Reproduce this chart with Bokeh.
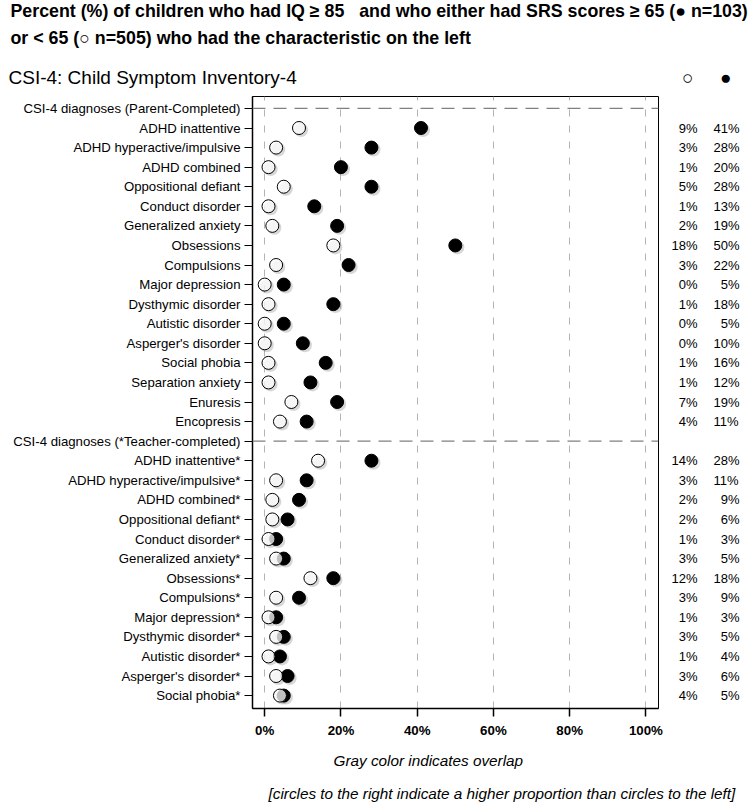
from bokeh.plotting import figure
from bokeh.models import (Range1d, FixedTicker, Span, Title, LinearAxis,
                          ColumnDataSource, PrintfTickFormatter)
from bokeh.transform import dodge
from bokeh.embed import file_html
from bokeh.resources import INLINE

# ---------------- data ----------------
parent_header = "CSI-4 diagnoses (Parent-Completed)"
parent_items = ["ADHD inattentive", "ADHD hyperactive/impulsive", "ADHD combined",
                "Oppositional defiant", "Conduct disorder", "Generalized anxiety",
                "Obsessions", "Compulsions", "Major depression", "Dysthymic disorder",
                "Autistic disorder", "Asperger's disorder", "Social phobia",
                "Separation anxiety", "Enuresis", "Encopresis"]
parent_open = [9, 3, 1, 5, 1, 2, 18, 3, 0, 1, 0, 0, 1, 1, 7, 4]      # SRS < 65 (n=505)
parent_filled = [41, 28, 20, 28, 13, 19, 50, 22, 5, 18, 5, 10, 16, 12, 19, 11]  # SRS >= 65 (n=103)

teacher_header = "CSI-4 diagnoses (*Teacher-completed)"
teacher_items = ["ADHD inattentive*", "ADHD hyperactive/impulsive*", "ADHD combined*",
                 "Oppositional defiant*", "Conduct disorder*", "Generalized anxiety*",
                 "Obsessions*", "Compulsions*", "Major depression*", "Dysthymic disorder*",
                 "Autistic disorder*", "Asperger's disorder*", "Social phobia*"]
teacher_open = [14, 3, 2, 2, 1, 3, 12, 3, 1, 3, 1, 3, 4]
teacher_filled = [28, 11, 9, 6, 3, 5, 18, 9, 3, 5, 4, 6, 5]

x_ticks = [0, 20, 40, 60, 80, 100]

# ---------------- build ----------------
labels = [parent_header] + parent_items + [teacher_header] + teacher_items
n = len(labels)
header_idx = [0, 1 + len(parent_items)]

ys, opens, filleds = [], [], []
for i, v_o, v_f in zip(range(1, 1 + len(parent_items)), parent_open, parent_filled):
    ys.append(n - 1 - i); opens.append(v_o); filleds.append(v_f)
for j, v_o, v_f in zip(range(len(teacher_items)), teacher_open, teacher_filled):
    i = header_idx[1] + 1 + j
    ys.append(n - 1 - i); opens.append(v_o); filleds.append(v_f)

src = ColumnDataSource(dict(y=ys, open=opens, filled=filleds))

FONT = "Liberation Sans"
NB = "\u00a0"
FIG = "\u2007"


def pct(v):
    s = f"{v}%"
    return FIG * (3 - len(s)) + s


p = figure(width=751, height=808, output_backend="svg", toolbar_location=None,
           title=None,
           x_range=Range1d(-3.2, 103.3), y_range=Range1d(-0.66, n - 1 + 0.61),
           min_border_left=252, min_border_right=93, min_border_top=96,
           min_border_bottom=100)
p.outline_line_color = "black"
p.outline_line_width = 1
p.background_fill_color = "white"
p.border_fill_color = "white"

# grid
p.ygrid.grid_line_color = None
p.xgrid.ticker = FixedTicker(ticks=x_ticks)
p.xgrid.grid_line_color = "#b4b4b4"
p.xgrid.grid_line_dash = "7 9"
p.xgrid.grid_line_width = 1

# x axis
p.xaxis.ticker = FixedTicker(ticks=x_ticks)
p.xaxis.formatter = PrintfTickFormatter(format="%d%%")
p.xaxis.major_label_text_font = FONT
p.xaxis.major_label_text_font_style = "bold"
p.xaxis.major_label_text_font_size = "13.3px"
p.xaxis.major_label_text_color = "black"
p.xaxis.major_tick_out = 8
p.xaxis.major_tick_in = 0
p.xaxis.minor_tick_line_color = None
p.xaxis.axis_line_width = 1.5
p.xaxis.major_tick_line_width = 1.5
p.xaxis.major_label_standoff = 6

# y axis
p.yaxis.ticker = FixedTicker(ticks=list(range(n)))
p.yaxis.major_label_overrides = {n - 1 - i: lab for i, lab in enumerate(labels)}
p.yaxis.major_label_text_font = FONT
p.yaxis.major_label_text_font_size = "13.2px"
p.yaxis.major_label_text_color = "black"
p.yaxis.major_tick_out = 8
p.yaxis.major_tick_in = 0
p.yaxis.minor_tick_line_color = None
p.yaxis.axis_line_width = 1.5
p.yaxis.major_tick_line_width = 1.2
p.yaxis.major_label_standoff = 4

# right-hand percentage columns as extra axes
for vals, stand in ((opens, 13), (filleds, 13)):
    ax = LinearAxis(ticker=FixedTicker(ticks=ys),
                    major_label_overrides={y: pct(v) for y, v in zip(ys, vals)})
    ax.axis_line_color = None
    ax.major_tick_line_color = None
    ax.minor_tick_line_color = None
    ax.major_tick_out = 0
    ax.major_tick_in = 0
    ax.major_label_standoff = stand
    ax.major_label_text_font = FONT
    ax.major_label_text_font_size = "13px"
    ax.major_label_text_color = "black"
    p.add_layout(ax, "right")

# header dashed lines
for hi in header_idx:
    p.add_layout(Span(location=n - 1 - hi, dimension="width", line_color="#808080",
                      line_dash="13 8", line_width=1.2))

# shadows
for col in ("filled", "open"):
    p.scatter(x=dodge(col, 0.55), y=dodge("y", -0.1), source=src, size=14,
              marker="circle", fill_color="#7a7a7a", fill_alpha=0.3, line_color=None)

# filled circles (SRS >= 65)
p.scatter(x="filled", y="y", source=src, size=13, marker="circle",
          fill_color="black", line_color="black", line_width=1)
# open circles (SRS < 65) - semi transparent so that overlap is gray
p.scatter(x="open", y="y", source=src, size=13, marker="circle",
          fill_color="white", fill_alpha=0.75, line_color="black", line_width=1)

# titles above (first added = closest to the frame)
sub = "CSI-4: Child Symptom Inventory-4" + NB * 73 + "\u25cb" + NB * 5 + "\u25cf"
p.add_layout(Title(text=sub, align="left", offset=-244, standoff=18,
                   text_font=FONT, text_font_size="19px", text_font_style="normal",
                   text_color="black"), "above")
p.add_layout(Title(text="or < 65 (\u25cb n=505) who had the characteristic on the left",
                   align="left", offset=-242, standoff=16, text_font=FONT,
                   text_font_size="17.8px", text_font_style="bold", text_color="black"),
             "above")
p.add_layout(Title(text="Percent (%) of children who had IQ \u2265 85" + NB * 3 +
                   "and who either had SRS scores \u2265 65 (\u25cf n=103)",
                   align="left", offset=-242, standoff=-6, text_font=FONT,
                   text_font_size="17.8px", text_font_style="bold", text_color="black"),
             "above")

# notes below
p.add_layout(Title(text="Gray color indicates overlap", align="left", offset=81,
                   standoff=18, text_font=FONT, text_font_size="15.3px",
                   text_font_style="italic", text_color="black"), "below")
p.add_layout(Title(text="[circles to the right indicate a higher proportion than circles to the left]",
                   align="left", offset=16, standoff=10, text_font=FONT,
                   text_font_size="15.3px", text_font_style="italic", text_color="black"),
             "below")

open("out.html", "w").write(file_html(p, INLINE))
